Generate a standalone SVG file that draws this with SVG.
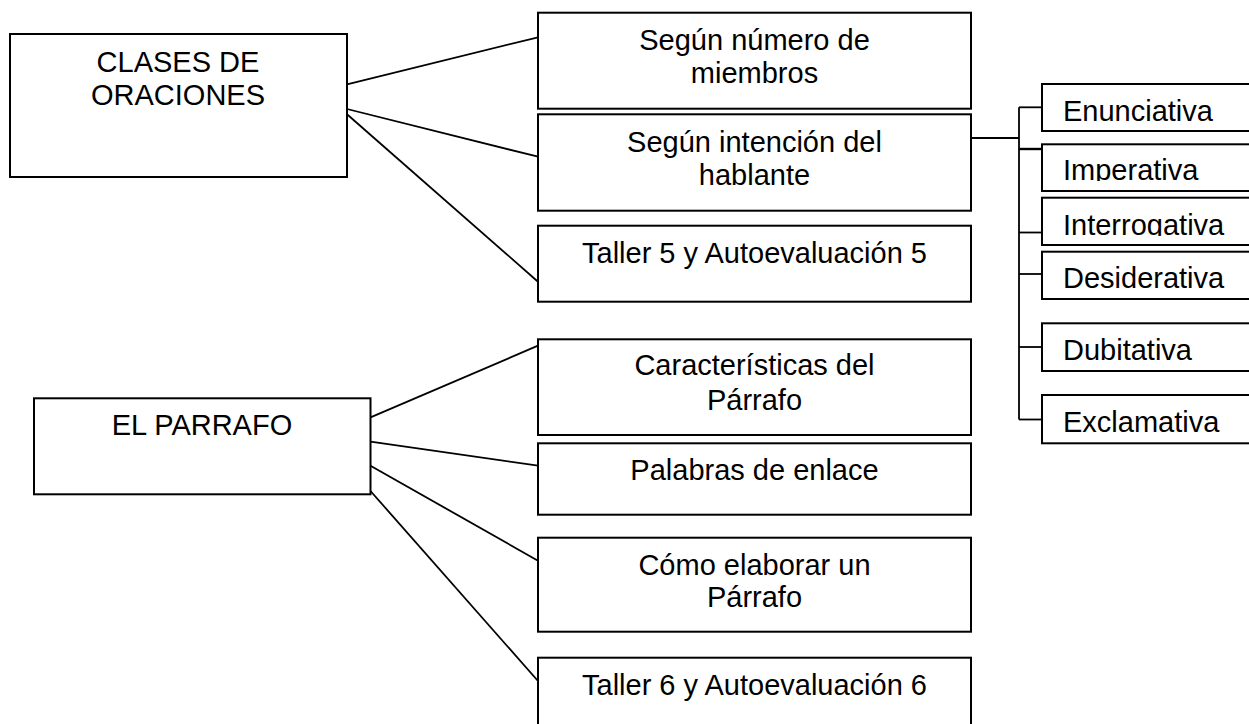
<svg xmlns="http://www.w3.org/2000/svg" width="1249" height="724" viewBox="0 0 1249 724">
<style>
.box{fill:#fff;stroke:#000;stroke-width:2}
.ln{fill:none;stroke:#000;stroke-width:1.8}
.t{font-family:"Liberation Sans",Arial,sans-serif;font-size:29px;fill:#000}
.c{text-anchor:middle}
</style>
<defs>
<clipPath id="clipImp"><rect x="1042" y="145" width="220" height="36"/></clipPath>
<clipPath id="clipInt"><rect x="1042" y="198" width="220" height="38"/></clipPath>
</defs>
<rect width="1249" height="724" fill="#fff"/>
<g id="connectors">
<line class="ln" x1="347" y1="84.3" x2="538" y2="37.3"/>
<line class="ln" x1="347" y1="109" x2="538" y2="156.7"/>
<line class="ln" x1="347" y1="114.3" x2="538" y2="281.7"/>
<line class="ln" x1="370.5" y1="417.3" x2="538" y2="345.7"/>
<line class="ln" x1="370.5" y1="441.7" x2="538" y2="465.7"/>
<line class="ln" x1="370.5" y1="465.7" x2="538" y2="560.7"/>
<line class="ln" x1="370.5" y1="491" x2="538" y2="681"/>
<line class="ln" x1="971" y1="138" x2="1019" y2="138"/>
<line class="ln" x1="1019" y1="107.3" x2="1019" y2="419.5"/>
<line class="ln" x1="1019" y1="107.3" x2="1042" y2="107.3"/>
<line class="ln" x1="1019" y1="149" x2="1042" y2="149" style="stroke-width:2.4"/>
<line class="ln" x1="1019" y1="232.5" x2="1042" y2="232.5"/>
<line class="ln" x1="1019" y1="274" x2="1042" y2="274"/>
<line class="ln" x1="1019" y1="347" x2="1042" y2="347"/>
<line class="ln" x1="1019" y1="419.5" x2="1042" y2="419.5"/>
</g>
<g id="clases">
<rect class="box" x="10" y="34" width="337" height="143"/>
<text class="t c" x="178" y="71.7">CLASES DE</text>
<text class="t c" x="178" y="105">ORACIONES</text>
</g>
<g id="numero">
<rect class="box" x="538" y="12.7" width="433" height="96"/>
<text class="t c" x="754.5" y="50">Según número de</text>
<text class="t c" x="754.5" y="82.7">miembros</text>
</g>
<g id="intencion">
<rect class="box" x="538" y="114.3" width="433" height="96.4"/>
<text class="t c" x="754.5" y="151.7">Según intención del</text>
<text class="t c" x="754.5" y="185">hablante</text>
</g>
<g id="taller5">
<rect class="box" x="538" y="225.7" width="433" height="76"/>
<text class="t c" x="754.5" y="263.3">Taller 5 y Autoevaluación 5</text>
</g>
<g id="parrafo">
<rect class="box" x="34" y="398.3" width="336.5" height="96"/>
<text class="t c" x="202" y="435">EL PARRAFO</text>
</g>
<g id="caracteristicas">
<rect class="box" x="538" y="339.3" width="433" height="95.7"/>
<text class="t c" x="754.5" y="375">Características del</text>
<text class="t c" x="754.5" y="410">Párrafo</text>
</g>
<g id="palabras">
<rect class="box" x="538" y="443.3" width="433" height="71.4"/>
<text class="t c" x="754.5" y="480">Palabras de enlace</text>
</g>
<g id="como">
<rect class="box" x="538" y="537.7" width="433" height="94"/>
<text class="t c" x="754.5" y="575">Cómo elaborar un</text>
<text class="t c" x="754.5" y="606.7">Párrafo</text>
</g>
<g id="taller6">
<rect class="box" x="538" y="657.7" width="433" height="80"/>
<text class="t c" x="754.5" y="695">Taller 6 y Autoevaluación 6</text>
</g>
<g id="enunciativa">
<rect class="box" x="1042" y="84" width="220" height="47"/>
<text class="t" x="1063" y="120.7">Enunciativa</text>
</g>
<g id="imperativa">
<rect class="box" x="1042" y="144.3" width="220" height="46.7"/>
<text class="t" x="1063" y="180" clip-path="url(#clipImp)">Imperativa</text>
</g>
<g id="interrogativa">
<rect class="box" x="1042" y="197.7" width="220" height="47.3"/>
<text class="t" x="1063" y="235" clip-path="url(#clipInt)">Interrogativa</text>
</g>
<g id="desiderativa">
<rect class="box" x="1042" y="251.7" width="220" height="47.3"/>
<text class="t" x="1063" y="288.3">Desiderativa</text>
</g>
<g id="dubitativa">
<rect class="box" x="1042" y="323.3" width="220" height="47.7"/>
<text class="t" x="1063" y="360">Dubitativa</text>
</g>
<g id="exclamativa">
<rect class="box" x="1042" y="395" width="220" height="48.3"/>
<text class="t" x="1063" y="431.7">Exclamativa</text>
</g>
</svg>
